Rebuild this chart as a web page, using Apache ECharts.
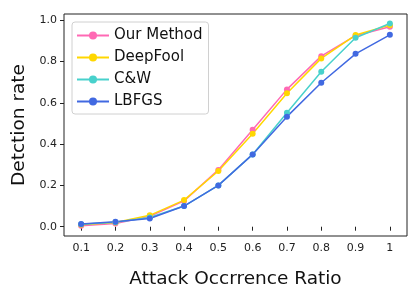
<!DOCTYPE html>
<html>
<head>
<meta charset="utf-8">
<script src="https://cdn.jsdelivr.net/npm/echarts@6/dist/echarts.min.js"></script>
<style>
  html, body { margin: 0; padding: 0; background: #fff; }
  #main { width: 408px; height: 295px; }
</style>
</head>
<body>
<div id="main"></div>
<script>
// x categories (attack occurrence ratio)
const ratios = ['0.1', '0.2', '0.3', '0.4', '0.5', '0.6', '0.7', '0.8', '0.9', '1'];
const yTicks = [0, 0.2, 0.4, 0.6, 0.8, 1.0];

// detection rate per method
const ourMethod = [0.005, 0.015, 0.05, 0.125, 0.275, 0.47, 0.665, 0.826, 0.925, 0.968];
const deepFool  = [0.01, 0.02, 0.055, 0.129, 0.27, 0.45, 0.646, 0.815, 0.928, 0.976];
const cw        = [0.012, 0.022, 0.045, 0.10, 0.2, 0.35, 0.552, 0.75, 0.915, 0.984];
const lbfgs     = [0.013, 0.024, 0.04, 0.10, 0.2, 0.35, 0.533, 0.697, 0.837, 0.929];

const names  = ['Our Method', 'DeepFool', 'C&W', 'LBFGS'];
const values = [ourMethod, deepFool, cw, lbfgs];
const colors = ['#ff69b4', '#ffd700', '#48d1cc', '#4169e1'];

const font = 'DejaVu Sans';

const chart = echarts.init(document.getElementById('main'), null, { renderer: 'canvas' });

const series = names.map((n, i) => ({
  name: n,
  type: 'line',
  data: values[i],
  symbol: 'circle',
  symbolSize: 6,
  lineStyle: { width: 1.5, color: colors[i] },
  itemStyle: { color: colors[i] },
  emphasis: { disabled: true },
  animation: false
}));

chart.setOption({
  animation: false,
  grid: {
    left: 64, right: 1, top: 14, bottom: 59,
    show: true, borderColor: '#222', borderWidth: 1, backgroundColor: 'transparent'
  },
  legend: {
    data: names,
    orient: 'vertical',
    left: 72, top: 22,
    itemWidth: 32, itemHeight: 10, itemGap: 7,
    padding: [6, 6, 5, 4],
    borderColor: '#d0d0d0', borderWidth: 1, borderRadius: 3,
    backgroundColor: '#fff',
    textStyle: { fontFamily: font, fontSize: 15, color: '#111' }
  },
  xAxis: {
    type: 'category',
    data: ratios,
    boundaryGap: true,
    name: 'Attack Occrrence Ratio',
    nameLocation: 'middle',
    nameGap: 34,
    nameTextStyle: { fontFamily: font, fontSize: 18.5, color: '#111' },
    axisLine: { show: false },
    axisTick: { show: true, alignWithLabel: true, length: 4, lineStyle: { color: '#222' } },
    axisLabel: { fontFamily: font, fontSize: 11, color: '#222', margin: 7 },
    splitLine: { show: false }
  },
  yAxis: {
    type: 'value',
    min: -0.045,
    max: 1.03,
    name: 'Detction rate',
    nameLocation: 'middle',
    nameGap: 31,
    nameTextStyle: { fontFamily: font, fontSize: 18.5, color: '#111' },
    axisLine: { show: false },
    axisTick: { show: true, length: 4, customValues: yTicks, lineStyle: { color: '#222' } },
    axisLabel: {
      fontFamily: font, fontSize: 11, color: '#222', margin: 7,
      customValues: yTicks,
      formatter: v => v.toFixed(1)
    },
    splitLine: { show: false }
  },
  series: series
});
</script>
</body>
</html>
